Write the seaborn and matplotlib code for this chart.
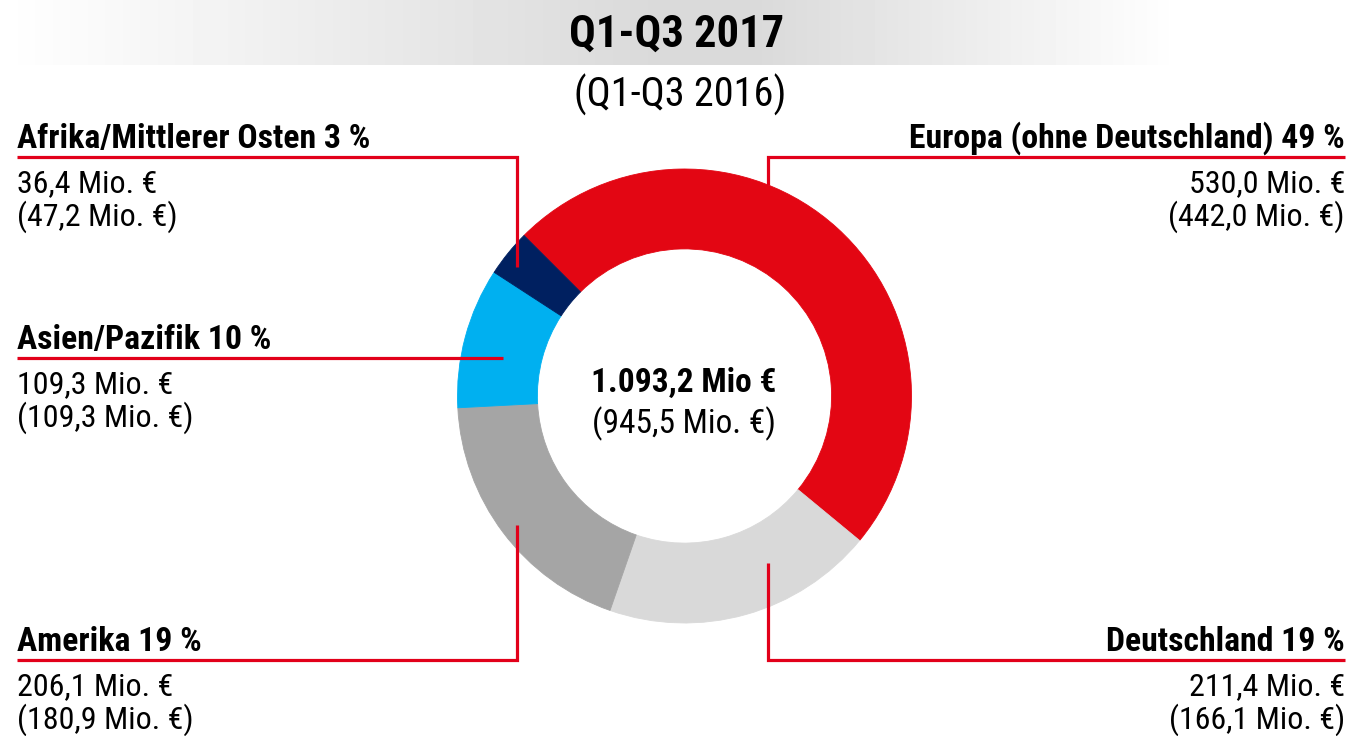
import numpy as np
import matplotlib
matplotlib.use('Agg')
import matplotlib.pyplot as plt
from matplotlib import font_manager
import seaborn as sns

# Umsatz nach Regionen, Q1-Q3 2017 (Vorjahr in Klammern)
regions = ['Europa (ohne Deutschland)', 'Deutschland', 'Amerika', 'Asien/Pazifik', 'Afrika/Mittlerer Osten']
sales_2017 = [530.0, 211.4, 206.1, 109.3, 36.4]
sales_2016 = [442.0, 166.1, 180.9, 109.3, 47.2]
share_pct = [49, 19, 19, 10, 3]
total_2017 = 1093.2
total_2016 = 945.5
title = 'Q1-Q3 2017'
subtitle = '(Q1-Q3 2016)'

colors = ['#e30613', '#d9d9d9', '#a5a5a5', '#00b0f0', '#002060']
line_red = '#e2001a'

sns.set_theme(style='white')
installed = {f.name for f in font_manager.fontManager.ttflist}
narrow = ['Liberation Sans Narrow', 'Arial Narrow', 'Roboto Condensed', 'Archivo Narrow',
          'PT Sans Narrow', 'Liberation Sans']
fams = [f for f in narrow if f in installed][:1]
plt.rcParams['font.family'] = fams + ['DejaVu Sans']
plt.rcParams['text.color'] = 'black'


def de(v, unit='Mio. €'):
    s = '{:,.1f}'.format(v).replace(',', 'X').replace('.', ',').replace('X', '.')
    return '{} {}'.format(s, unit)


W, H = 1354, 736
fig = plt.figure(figsize=(W / 100, H / 100), dpi=100)

# donut
cx, cy, R = 684.5, 396, 227
pax = fig.add_axes([(cx - R) / W, (H - cy - R) / H, 2 * R / W, 2 * R / H])
wedges, _ = pax.pie(sales_2017, colors=colors, startangle=135, counterclock=False,
                    wedgeprops=dict(width=0.352, linewidth=0.6))
for w, c in zip(wedges, colors):
    w.set_edgecolor(c)
pax.set_xlim(-1, 1)
pax.set_ylim(-1, 1)

# overlay in pixel coords for band, labels and leader lines
ax = fig.add_axes([0, 0, 1, 1])
xs = np.arange(W)
grey = np.interp(xs, [0, 650, 760, 1180, W], [255, 218, 218, 255, 255]) / 255
band = np.repeat(grey[None, :], 2, axis=0)
ax.imshow(band, cmap='gray', vmin=0, vmax=1, extent=[0, W, 65, 0], aspect='auto', zorder=0)
ax.set_xlim(0, W)
ax.set_ylim(H, 0)
ax.axis('off')

ax.text(677, 47, title, ha='center', va='baseline', fontsize=32, fontweight='bold')
ax.text(680, 107, subtitle, ha='center', va='baseline', fontsize=29)

ax.text(cx - 1, 392, de(total_2017, 'Mio €'), ha='center', va='baseline', fontsize=24, fontweight='bold')
ax.text(cx - 1, 433, '(' + de(total_2016) + ')', ha='center', va='baseline', fontsize=24)

# label placement: side, y of underline, x of elbow, y where leader ends
layout = {
    'Europa (ohne Deutschland)': ('right', 157, 768, 185),
    'Deutschland': ('right', 660, 768, 563),
    'Amerika': ('left', 660, 517, 525),
    'Asien/Pazifik': ('left', 358, 503, None),
    'Afrika/Mittlerer Osten': ('left', 157, 517, 267),
}

for reg, v17, v16, pct in zip(regions, sales_2017, sales_2016, share_pct):
    side, ly, ex, ey = layout[reg]
    tx = 17 if side == 'left' else 1345
    ha = 'left' if side == 'left' else 'right'
    ax.text(tx, ly - 9, '{} {} %'.format(reg, pct), ha=ha, va='baseline', fontsize=24.3, fontweight='bold')
    ax.text(tx, ly + 35, de(v17), ha=ha, va='baseline', fontsize=23)
    ax.text(tx, ly + 69, '(' + de(v16) + ')', ha=ha, va='baseline', fontsize=23)
    if ey is None:
        ax.plot([tx, ex], [ly, ly], color=line_red, lw=2.3, solid_capstyle='butt')
    else:
        ax.plot([tx, ex, ex], [ly, ly, ey], color=line_red, lw=2.3,
                solid_capstyle='butt', solid_joinstyle='miter')

fig.savefig('out.png', dpi=100)
